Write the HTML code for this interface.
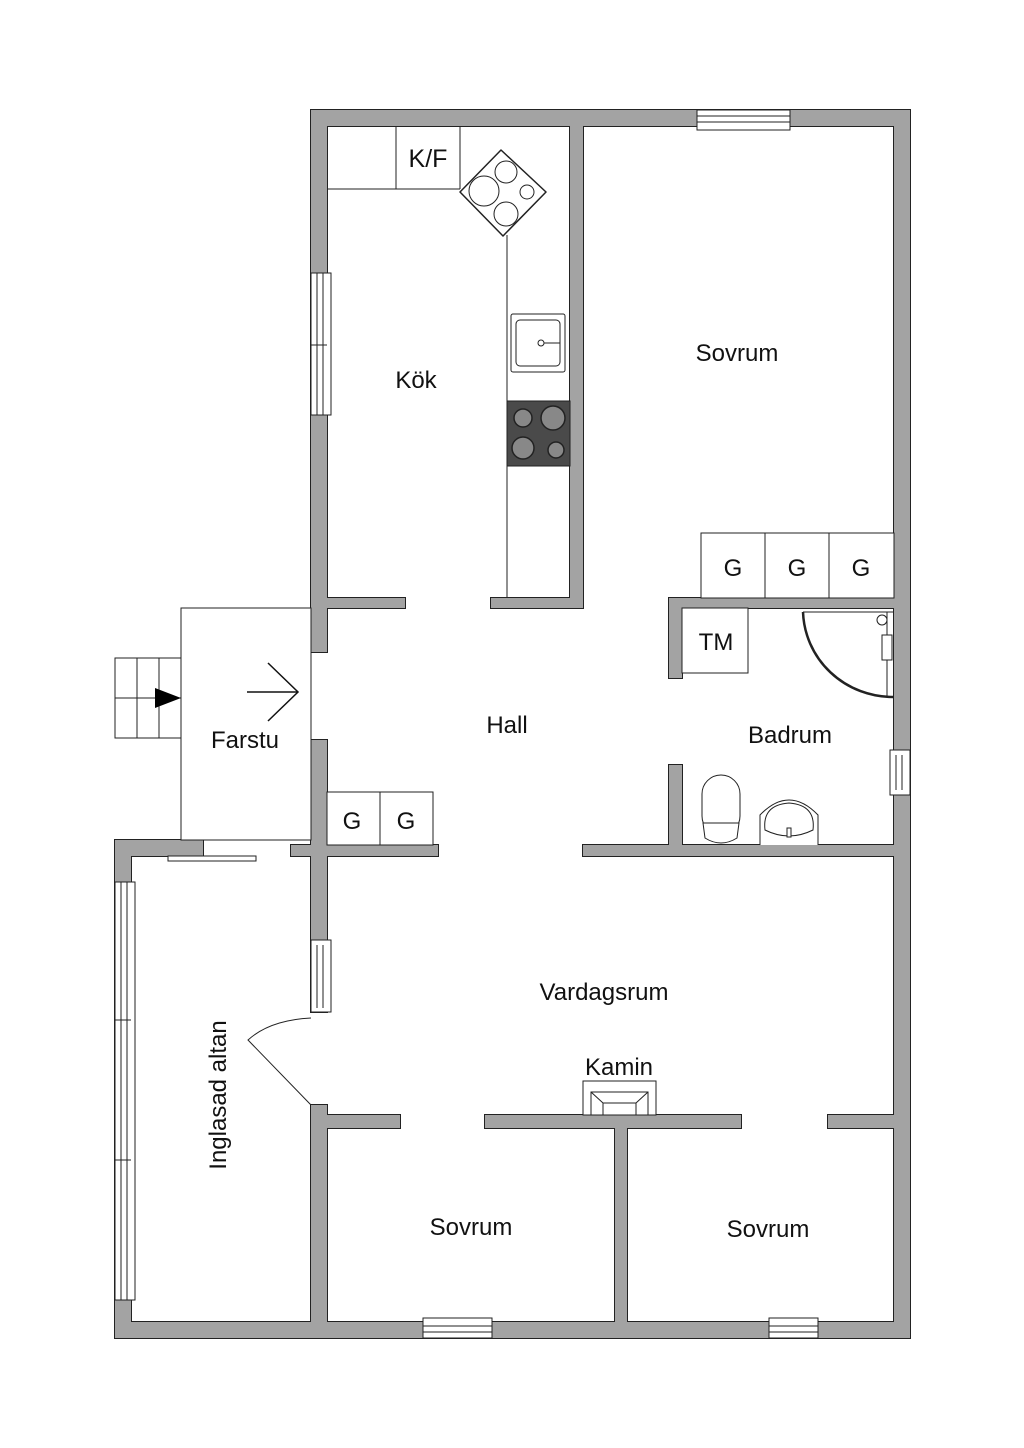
<!DOCTYPE html>
<html><head><meta charset="utf-8"><style>
html,body{margin:0;padding:0;background:#fff}
svg{display:block}
text{font-family:"Liberation Sans",sans-serif;fill:#111}
</style></head><body>
<svg width="1024" height="1448" viewBox="0 0 1024 1448" xmlns="http://www.w3.org/2000/svg">
<defs>
<g id="walls">
<rect x="311" y="110" width="599" height="16"/>
<rect x="311" y="110" width="16" height="542"/>
<rect x="311" y="740" width="16" height="272"/>
<rect x="311" y="1105" width="16" height="233"/>
<rect x="894" y="110" width="16" height="1228"/>
<rect x="115" y="1322" width="795" height="16"/>
<rect x="115" y="840" width="16" height="498"/>
<rect x="115" y="840" width="88" height="16"/>
<rect x="291" y="845" width="147" height="11"/>
<rect x="327" y="598" width="78" height="10"/>
<rect x="491" y="598" width="92" height="10"/>
<rect x="570" y="126" width="13" height="482"/>
<rect x="669" y="598" width="225" height="10"/>
<rect x="669" y="598" width="13" height="80"/>
<rect x="669" y="765" width="13" height="91"/>
<rect x="583" y="845" width="311" height="11"/>
<rect x="327" y="1115" width="73" height="13"/>
<rect x="485" y="1115" width="256" height="13"/>
<rect x="828" y="1115" width="66" height="13"/>
<rect x="615" y="1128" width="12" height="194"/>
</g>
</defs>
<rect width="1024" height="1448" fill="#fff"/>
<use href="#walls" fill="#222" stroke="#222" stroke-width="2"/>
<use href="#walls" fill="#a3a3a3"/>
<g fill="#fff" stroke="#222" stroke-width="1">
<rect x="697" y="110" width="93" height="20"/><line x1="697" y1="116" x2="790" y2="116"/><line x1="697" y1="122" x2="790" y2="122"/>
<rect x="311" y="273" width="20" height="142"/><line x1="317" y1="273" x2="317" y2="415"/><line x1="323" y1="273" x2="323" y2="415"/><line x1="311" y1="345" x2="327" y2="345"/>
<rect x="890" y="750" width="20" height="45"/><line x1="896" y1="755" x2="896" y2="790"/><line x1="902" y1="755" x2="902" y2="790"/>
<rect x="115" y="882" width="20" height="418"/><line x1="121" y1="882" x2="121" y2="1300"/><line x1="127" y1="882" x2="127" y2="1300"/><line x1="115" y1="1020" x2="131" y2="1020"/><line x1="115" y1="1160" x2="131" y2="1160"/>
<rect x="311" y="940" width="20" height="72"/><line x1="317" y1="945" x2="317" y2="1008"/><line x1="323" y1="945" x2="323" y2="1008"/>
<rect x="423" y="1318" width="69" height="20"/><line x1="423" y1="1326" x2="492" y2="1326"/><line x1="423" y1="1332" x2="492" y2="1332"/>
<rect x="769" y="1318" width="49" height="20"/><line x1="769" y1="1326" x2="818" y2="1326"/><line x1="769" y1="1332" x2="818" y2="1332"/>
<rect x="168" y="856" width="88" height="5"/>
<rect x="181" y="608" width="130" height="232"/>
<rect x="115" y="658" width="66" height="80"/>
<line x1="137" y1="658" x2="137" y2="738"/><line x1="159" y1="658" x2="159" y2="738"/><line x1="115" y1="698" x2="181" y2="698"/>
<line x1="327" y1="189" x2="460" y2="189"/>
<line x1="396" y1="126" x2="396" y2="189"/><line x1="460" y1="126" x2="460" y2="189"/>
<line x1="507" y1="235" x2="507" y2="598"/>
<polygon points="501,150 546,192 503,236 460,192" stroke-linejoin="round" stroke-width="1.5"/>
<circle cx="484" cy="191" r="15"/><circle cx="506" cy="172" r="11"/><circle cx="527" cy="192" r="7"/><circle cx="506" cy="214" r="12"/>
<rect x="511" y="314" width="54" height="58" rx="2"/><rect x="516" y="320" width="44" height="46" rx="4"/>
<circle cx="541" cy="343" r="3"/><line x1="544" y1="343" x2="560" y2="343"/>
<rect x="701" y="533" width="64" height="65"/><rect x="765" y="533" width="64" height="65"/><rect x="829" y="533" width="65" height="65"/>
<rect x="327" y="792" width="53" height="53"/><rect x="380" y="792" width="53" height="53"/>
<rect x="682" y="608" width="66" height="65"/>
<rect x="702" y="775" width="38" height="60" rx="19"/>
<path d="M703,823 L739,823 L737,838 Q721,848 705,838 Z"/>
<path d="M760,845 L760,815 Q789,785 818,815 L818,845"/>
<path d="M765,830 Q762,805 789,803 Q816,805 813,830 Q789,842 765,830 Z"/>
<rect x="787" y="828" width="4" height="9"/>
<rect x="583" y="1081" width="73" height="34"/>
<rect x="591" y="1092" width="57" height="23"/>
<polygon points="603,1103 636,1103 636,1115 603,1115"/>
<line x1="591" y1="1092" x2="603" y2="1103"/><line x1="648" y1="1092" x2="636" y2="1103"/>
</g>
<rect x="507" y="401" width="63" height="65" fill="#4a4a4a" stroke="#222"/>
<g fill="#888" stroke="#222" stroke-width="1.5">
<circle cx="523" cy="418" r="9"/><circle cx="553" cy="418" r="12"/><circle cx="523" cy="448" r="11"/><circle cx="556" cy="450" r="8"/>
</g>
<path d="M803,612 A90,88 0 0 0 893,697" fill="none" stroke="#222" stroke-width="2.5"/>
<line x1="887" y1="612" x2="887" y2="697" stroke="#222"/>
<line x1="803" y1="612" x2="893" y2="612" stroke="#222"/>
<circle cx="882" cy="620" r="5" fill="#fff" stroke="#222"/>
<rect x="882" y="635" width="10" height="25" fill="#fff" stroke="#222"/>
<path d="M311,1018 Q270,1020 248,1040 L311,1105" fill="none" stroke="#222"/>
<g stroke="#111" stroke-width="1.5" fill="none"><line x1="247" y1="692" x2="298" y2="692"/><polyline points="268,663 298,692 268,721"/></g>
<polygon points="155,688 181,698 155,708" fill="#000"/>
<g font-size="24" text-anchor="middle">
<text x="428" y="167" font-size="25">K/F</text>
<text x="416" y="388">Kök</text>
<text x="737" y="361">Sovrum</text>
<text x="733" y="576">G</text><text x="797" y="576">G</text><text x="861" y="576">G</text>
<text x="716" y="650">TM</text>
<text x="352" y="829">G</text><text x="406" y="829">G</text>
<text x="507" y="733">Hall</text>
<text x="245" y="748">Farstu</text>
<text x="790" y="743">Badrum</text>
<text x="604" y="1000">Vardagsrum</text>
<text x="619" y="1075">Kamin</text>
<text x="471" y="1235">Sovrum</text>
<text x="768" y="1237">Sovrum</text>
<text transform="translate(226,1095) rotate(-90)">Inglasad altan</text>
</g>
</svg>
</body></html>
